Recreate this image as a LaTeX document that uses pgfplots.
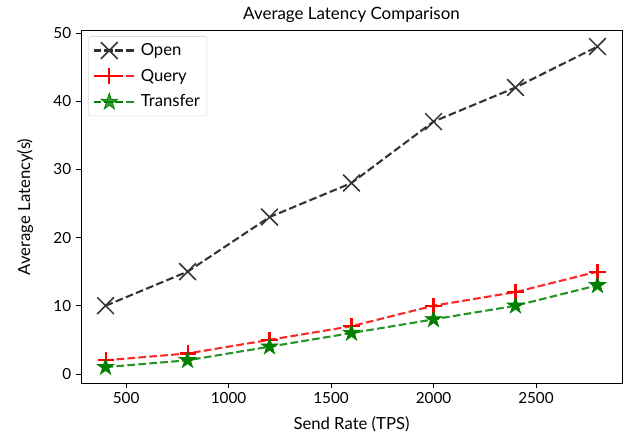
\documentclass[border=0pt]{standalone}
\usepackage{fontspec}
\setmainfont{Lato}
\usepackage{pgfplots}
\pgfplotsset{compat=1.18}
\usetikzlibrary{plotmarks}
\definecolor{mgreen}{RGB}{0,128,0}
\definecolor{mdark}{RGB}{51,51,51}
\definecolor{mred}{RGB}{255,0,0}
\pgfdeclareplotmark{fstar}{%
  \pgfpathmoveto{\pgfqpointpolar{90}{\pgfplotmarksize}}%
  \pgfpathlineto{\pgfqpointpolar{126}{0.382\pgfplotmarksize}}%
  \pgfpathlineto{\pgfqpointpolar{162}{\pgfplotmarksize}}%
  \pgfpathlineto{\pgfqpointpolar{198}{0.382\pgfplotmarksize}}%
  \pgfpathlineto{\pgfqpointpolar{234}{\pgfplotmarksize}}%
  \pgfpathlineto{\pgfqpointpolar{270}{0.382\pgfplotmarksize}}%
  \pgfpathlineto{\pgfqpointpolar{306}{\pgfplotmarksize}}%
  \pgfpathlineto{\pgfqpointpolar{342}{0.382\pgfplotmarksize}}%
  \pgfpathlineto{\pgfqpointpolar{18}{\pgfplotmarksize}}%
  \pgfpathlineto{\pgfqpointpolar{54}{0.382\pgfplotmarksize}}%
  \pgfpathclose
  \pgfusepathqfillstroke
}
\pgfdeclareplotmark{rplus}{%
  \pgfsetstrokecolor{mred}%
  \pgfpathmoveto{\pgfqpoint{-\pgfplotmarksize}{0pt}}%
  \pgfpathlineto{\pgfqpoint{\pgfplotmarksize}{0pt}}%
  \pgfpathmoveto{\pgfqpoint{0pt}{-\pgfplotmarksize}}%
  \pgfpathlineto{\pgfqpoint{0pt}{\pgfplotmarksize}}%
  \pgfusepathqstroke
}
\begin{document}
\begin{tikzpicture}
\begin{axis}[
  scale only axis,
  width=389.5pt, height=253.8pt,
  xmin=280, xmax=2920, ymin=-1.35, ymax=50.35,
  xtick={500,1000,1500,2000,2500},
  ytick={0,10,20,30,40,50},
  tick align=outside, tick pos=left,
  major tick length=3.5pt,
  every tick/.style={black, line width=0.6pt},
  axis line style={line width=0.6pt},
  /pgf/number format/assume math mode=true,
  /pgf/number format/set thousands separator={},
  tick label style={font=\fontsize{11}{13}\selectfont},
  every axis title shift=0pt,
  title={Average Latency Comparison},
  title style={font=\fontsize{12.2}{14}\selectfont, at={(axis description cs:0.5,1)}, anchor=center, yshift=11.3pt},
  xlabel={Send Rate (TPS)},
  ylabel={Average Latency(s)},
  label style={font=\fontsize{12}{14}\selectfont},
  xlabel style={at={(axis description cs:0.5,-0.118)}, anchor=center},
  ylabel style={at={(axis description cs:-0.103,0.5)}, anchor=center},
  legend cell align=left,
  legend style={font=\fontsize{12}{14}\selectfont, draw=black!15, rounded corners=2pt, fill=white, fill opacity=0.8, text opacity=1, inner sep=3pt, row sep=4.3pt, at={(0.013,0.984)}, anchor=north west},
  legend image code/.code={\draw[mark repeat=2,mark phase=2] plot coordinates {(0cm,0cm) (0.4cm,0cm) (0.8cm,0cm)}; \path (0cm,0cm) -- (1.1cm,0cm);},
]
\addplot[mdark, line width=1.5pt, dash pattern=on 5.5pt off 2.4pt, mark=x, mark size=8.5pt, mark options={solid, line width=1.1pt, draw=mdark}] coordinates {
 (400,10) (800,15) (1200,23) (1600,28) (2000,37) (2400,42) (2800,48)};
\addlegendentry{Open}
\addplot[mred, draw opacity=0.85, line width=1.5pt, dash pattern=on 5.5pt off 2.4pt, mark=rplus, mark size=5.8pt, mark options={solid, line width=1.5pt, draw=mred, color=mred, draw opacity=1}] coordinates {
 (400,2) (800,3) (1200,5) (1600,7) (2000,10) (2400,12) (2800,15)};
\addlegendentry{Query}
\addplot[mgreen, draw opacity=0.85, line width=1.5pt, dash pattern=on 5.5pt off 2.4pt, mark=fstar, mark size=6.3pt, mark options={solid, line width=0.5pt, fill=mgreen, draw=mgreen, draw opacity=1}] coordinates {
 (400,1) (800,2) (1200,4) (1600,6) (2000,8) (2400,10) (2800,13)};
\addlegendentry{Transfer}
\end{axis}
\pgfresetboundingbox
\path ([xshift=-58.3pt,yshift=-39.6pt]current axis.south west) rectangle ([xshift=1.4pt,yshift=22pt]current axis.north east);
\end{tikzpicture}
\end{document}
